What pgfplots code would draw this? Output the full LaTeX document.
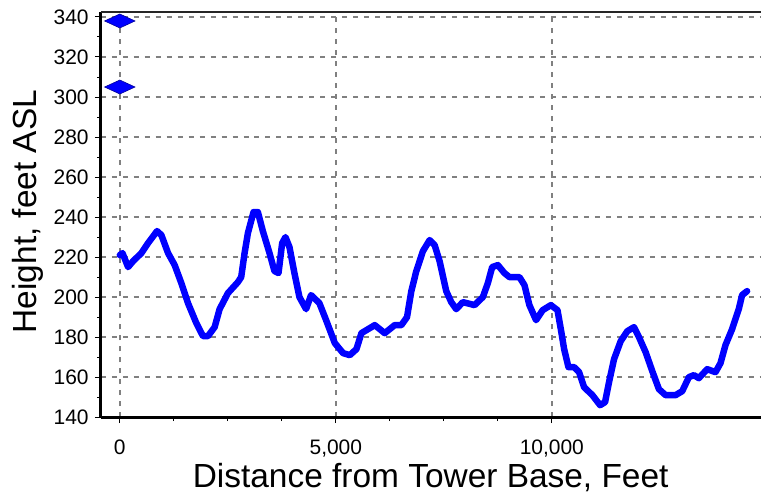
\documentclass[border=0pt]{standalone}
\usepackage{fontspec}
\setmainfont{Liberation Sans}
\usepackage{pgfplots}
\pgfplotsset{compat=1.18}
\definecolor{gridgray}{RGB}{128,128,128}
\begin{document}
\begin{tikzpicture}
\begin{axis}[
  scale only axis,
  width=661pt, height=406pt,
  xmin=-440, xmax=14830,
  ymin=140, ymax=342.5,
  clip=false,
  axis lines*=left,
  axis line style={line width=3pt, black},
  xtick={0,5000,10000},
  scaled x ticks=false,
  minor x tick num=3,
  ytick={140,160,...,340},
  minor y tick num=1,
  tick align=outside,
  major tick length=6pt,
  minor tick length=4pt,
  every tick/.style={black, line width=1pt},
  grid=major,
  major grid style={gridgray, line width=1.4pt, dash pattern=on 5pt off 6pt},
  /pgf/number format/assume math mode=true,
  /pgf/number format/1000 sep={,},
  ticklabel style={font=\fontsize{21}{25}\selectfont},
  xticklabel style={anchor=base, yshift=-31pt},
  yticklabel style={anchor=east, inner sep=0pt, xshift=-6pt},
  xlabel={Distance from Tower Base, Feet},
  ylabel={Height, feet ASL},
  label style={font=\fontsize{33.5}{38}\selectfont},
  xlabel style={at={([yshift=-70pt]axis description cs:0.5,0)}, anchor=base},
  ylabel style={at={([xshift=-73pt,yshift=3pt]axis description cs:0,0.5)}, anchor=center},
]
\path ([xshift=-101pt,yshift=-85pt]rel axis cs:0,0) rectangle ([yshift=12pt]rel axis cs:1,1);
\draw[line width=2pt, black!85] (rel axis cs:0,1) -- (rel axis cs:1,1);
\addplot[blue, line width=6.5pt, line join=round, line cap=round] coordinates {
(0,221) (62,222) (192,215) (308,218) (500,222) (654,227) (862,233) (962,231)
(1117,222) (1270,216) (1424,207) (1578,197) (1771,187) (1925,180.5) (2040,180.5)
(2195,185) (2310,194) (2503,202) (2734,207.5) (2810,210) (2888,222) (2965,232)
(3095,242.5) (3196,242.5) (3311,233) (3465,222) (3580,213) (3673,212) (3758,227)
(3835,230) (3927,225) (4042,212) (4158,200) (4312,194) (4427,201) (4620,197)
(4784,188) (4977,177) (5169,172) (5323,171) (5477,174) (5593,182) (5747,184)
(5901,186) (6132,182) (6363,186) (6517,186) (6648,190) (6748,203) (6863,213)
(7017,223) (7171,228.5) (7287,226) (7402,218) (7556,203) (7672,197.5) (7787,194)
(7941,197.5) (8211,196) (8403,200) (8519,207) (8619,215) (8750,216) (8904,212)
(9019,210) (9250,210) (9366,206) (9481,196) (9635,188.5) (9789,193.5) (9977,196)
(10131,193.5) (10208,184) (10285,174) (10385,165) (10516,165) (10631,162.5)
(10747,155) (10939,151) (11117,146) (11232,147.5) (11324,157.5) (11440,169)
(11594,178) (11748,183) (11902,185) (12017,180) (12171,172.5) (12325,163)
(12479,154) (12633,151) (12864,151) (13018,153) (13172,160) (13288,161)
(13403,159.5) (13596,164) (13788,162.5) (13904,167) (14019,176) (14173,184)
(14327,194) (14404,201) (14520,203)
};
\addplot[only marks, mark=diamond*, mark size=7pt,
  mark options={xscale=2.9, fill=blue, draw=blue!60!black, line width=0.6pt}]
  coordinates {(0,338) (0,305)};
\end{axis}
\end{tikzpicture}
\end{document}
